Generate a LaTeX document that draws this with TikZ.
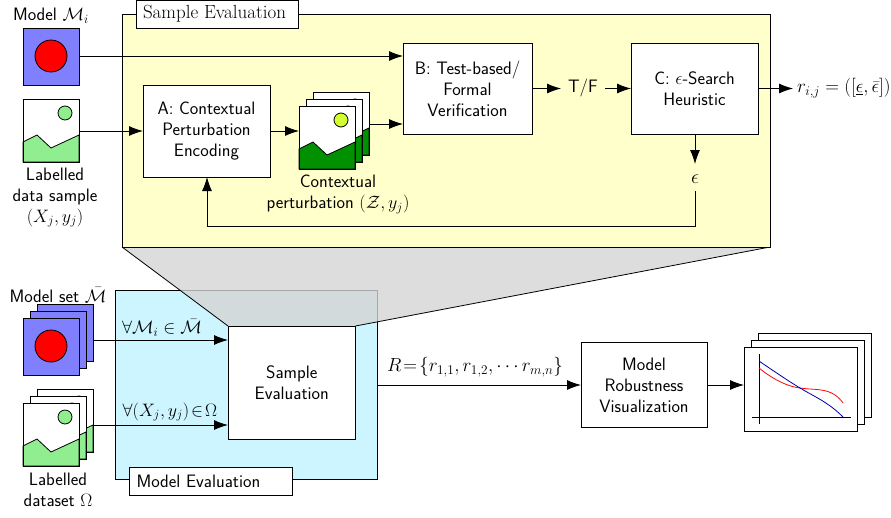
\documentclass[tikz,border=0pt]{standalone}
\usepackage{fix-cm}
\usepackage{amsmath}
\usetikzlibrary{arrows.meta}
\definecolor{modelblue}{HTML}{8080FF}
\definecolor{hillgreen}{HTML}{90EE90}
\definecolor{darkhill}{HTML}{009000}
\definecolor{sunyellow}{HTML}{D4FF2F}
\definecolor{paleyellow}{HTML}{FFFFCC}
\definecolor{paleblue}{HTML}{CCF5FF}
\tikzset{
  x=1pt,y=-1pt,
  every node/.style={font=\fontsize{18}{21}\selectfont\sffamily,inner sep=0pt,outer sep=0pt},
  linkarrow/.style={draw=black,line width=.85pt,-{Latex[length=14pt,width=10pt]}},
  linkline/.style={draw=black,line width=.85pt},
  procbox/.style={draw=black,line width=.85pt,fill=white,align=center,anchor=north west},
  titlebox/.style={draw=black,line width=.8pt,fill=white,anchor=north west},
  txt/.style={align=center,text=black},
  framepart/.style={draw=black,line width=.8pt},
}
% photo at top-left (#1,#2), sized 56 by 63, hill colour #3, sun colour #4
\newcommand{\photoicon}[4]{%
  \begin{scope}[shift={(#1,#2)}]
    \fill[white] (0,0) rectangle (56,63);
    \filldraw[framepart,fill=#3] (0,43) -- (14,36) -- (28,49) -- (56,36) -- (56,63) -- (0,63) -- cycle;
    \filldraw[framepart,fill=#4] (42,14) circle (7);
    \draw[framepart] (0,0) rectangle (56,63);
  \end{scope}}
\newcommand{\modelicon}[2]{%
  \begin{scope}[shift={(#1,#2)}]
    \filldraw[framepart,fill=modelblue] (0,0) rectangle (56,57);
    \filldraw[framepart,fill=red] (28,28) circle (16);
  \end{scope}}
\newcommand{\sheet}[2]{\filldraw[framepart,fill=white] (#1,#2) rectangle ++(113,84);}
\begin{document}
\begin{tikzpicture}
\useasboundingbox (0,0) rectangle (891,517);
% lower blue panel
\filldraw[framepart,fill=paleblue] (115,290) rectangle (377,479);
% funnel
\filldraw[draw=none,fill=black!17,fill opacity=.8] (122,247) -- (770,247) -- (355.5,326) -- (228,326) -- cycle;
\draw[framepart] (122,247) -- (228,326);
\draw[framepart] (770,247) -- (355.5,326);
\draw[framepart] (377,321.8) -- (377,479);
% upper yellow panel
\filldraw[framepart,fill=paleyellow] (122,14) rectangle (770.5,247);
\node[titlebox,minimum width=162,minimum height=28] (tt1) at (136,0) {};
\node[anchor=west,font=\fontsize{19}{21}\selectfont\rmfamily] (tt1t) at (143,14) {Sample Evaluation};
\node[titlebox,minimum width=163,minimum height=28] (tt2) at (129,467) {};
\node[anchor=west] (tt2t) at (136.5,481) {Model Evaluation};

% boxes
\node[procbox,minimum width=127,minimum height=92] (A) at (143,85) {A: Contextual\\Perturbation\\Encoding};
\node[procbox,minimum width=129,minimum height=91] (B) at (403,43) {B: Test-based/\\Formal\\Verification};
\node[procbox,minimum width=127,minimum height=91] (C) at (631,43) {C: $\epsilon$-Search\\Heuristic};
\node[procbox,minimum width=127.5,minimum height=113] (S) at (228,326) {Sample\\Evaluation};
\node[procbox,minimum width=126,minimum height=85] (V) at (581,342.5) {Model\\Robustness\\Visualization};

% icons
\modelicon{23}{28}
\photoicon{23}{99}{hillgreen}{hillgreen}
\photoicon{313}{92}{darkhill}{sunyellow}
\photoicon{306}{99}{darkhill}{sunyellow}
\photoicon{299}{106}{darkhill}{sunyellow}
\modelicon{37}{304}
\modelicon{30}{311}
\modelicon{23}{318}
\photoicon{37}{389}{hillgreen}{hillgreen}
\photoicon{30}{396}{hillgreen}{hillgreen}
\photoicon{23}{403}{hillgreen}{hillgreen}

% plot stack
\sheet{758}{333}
\sheet{751}{340}
\sheet{744}{347}
\draw[line width=.8pt] (759,354) -- (759,424);
\draw[line width=.8pt] (752,417) -- (851,417);
\draw[line width=.8pt,draw=red] (759,368) .. controls (775,381) and (790,387) .. (800,388) .. controls (812,390) and (825,388) .. (835,395) .. controls (838,397) and (841,400) .. (843,403);
\draw[line width=.8pt,draw=blue!70!black] (759,361) .. controls (775,372) and (790,382) .. (800,388) .. controls (815,397) and (828,402) .. (843,417);

% anchor points
\coordinate (m1) at (80,56);
\coordinate (d1) at (79,131);
\coordinate (z1) at (299,131);
\coordinate (z2) at (369,124);
\coordinate (ms) at (93,340);
\coordinate (ds) at (93,425);
\coordinate (plot) at (744,385);
\coordinate (pan) at (377,385);
\coordinate (turn1) at (695,226);
\coordinate (turn2) at (207,226);
\coordinate (tfin) at (561,88.5);
\coordinate (tfout) at (605,88.5);
\coordinate (epsin) at (695,164);
\coordinate (epsout) at (695,191);
\coordinate (cout) at (695,134);
\coordinate (rin) at (793,88.5);

% text
\node[txt] (l1) at (51,16) {Model $\mathcal{M}_i$};
\node[txt] (l2) at (55,197.5) {Labelled\\data sample\\$(X_j,y_j)$};
\node[txt] (l3) at (338,194.5) {Contextual\\perturbation $(\mathcal{Z},y_j)$};
\node[txt] (tf) at (583,88) {T/F};
\node[txt,anchor=west,font=\fontsize{19}{21}\selectfont\sffamily] (r) at (797,88) {$r_{i,j}=([\underline{\epsilon},\bar{\epsilon}])$};
\node[txt,font=\fontsize{20}{21}\selectfont\sffamily] (eps) at (695,179) {$\epsilon$};
\node[txt] (l4) at (58,295) {Model set $\bar{\mathcal{M}}$};
\node[txt] (l5) at (162,328) {$\forall\mathcal{M}_i\in\bar{\mathcal{M}}$};
\node[txt] (l6) at (170,412) {$\forall(X_j,y_j)\!\in\!\Omega$};
\node[txt] (l7) at (58,490) {Labelled\\dataset $\Omega$};
\node[txt,font=\fontsize{19}{21}\selectfont\sffamily] (l8) at (475,367) {$R\!=\!\{r_{1,1},r_{1,2},\cdots r_{m,n}\}$};

% connectors
\draw[linkarrow] (m1) -- (m1 -| B.west);
\draw[linkarrow] (d1) -- (d1 -| A.west);
\draw[linkarrow] (z1 -| A.east) -- (z1);
\draw[linkarrow] (z2) -- (z2 -| B.west);
\draw[linkarrow] (tfin -| B.east) -- (tfin);
\draw[linkarrow] (tfout) -- (tfout -| C.west);
\draw[linkarrow] (rin -| C.east) -- (rin);
\draw[linkarrow] (cout) -- (epsin);
\draw[linkline] (epsout) -- (turn1) -- (turn2);
\draw[linkarrow] (turn2) -- (turn2 |- A.south);
\draw[linkarrow] (ms) -- (ms -| S.west);
\draw[linkarrow] (ds) -- (ds -| S.west);
\draw[linkarrow] (pan) -- (pan -| V.west);
\draw[linkarrow] (plot -| V.east) -- (plot);
\end{tikzpicture}
\end{document}
